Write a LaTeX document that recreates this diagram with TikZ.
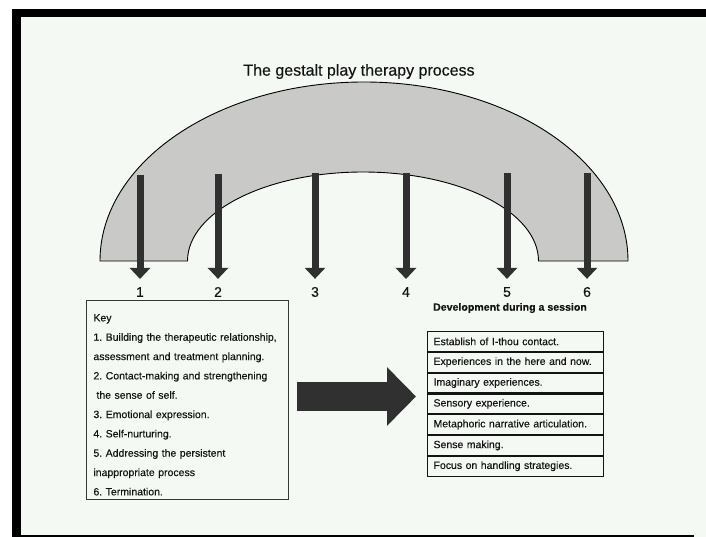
\documentclass[tikz,border=0pt]{standalone}
\usepackage{fontspec}
\setmainfont{Liberation Sans}[FakeBold=0.3]
\usetikzlibrary{arrows.meta}
\definecolor{paper}{RGB}{244,249,243}
\definecolor{archgray}{RGB}{201,202,200}
\definecolor{ink}{RGB}{48,48,48}
\definecolor{txt}{RGB}{20,20,20}
\frenchspacing
\begin{document}
\begin{tikzpicture}[x=1pt,y=-1pt,
  downarrow/.style={draw=ink, line width=7pt, -{Triangle[width=20pt,length=11pt]}, shorten >=8pt},
  bigarrow/.style={draw=ink, line width=29pt, -{Triangle[width=57pt,length=29pt]}, shorten <=8pt, shorten >=11pt},
  numlabel/.style={font=\fontsize{14}{14}\selectfont, text=txt, inner sep=0pt},
  rowbox/.style={draw=txt, line width=1.1pt, text width=164pt, inner xsep=6pt, inner ysep=0pt,
    minimum height=19.7pt, align=left, anchor=north west, font=\fontsize{10.5}{12}\selectfont, text=txt},
  keybox/.style={draw=txt!85, line width=0.9pt, text width=188pt, inner xsep=7pt, inner ysep=0pt,
    minimum height=199pt, align=left, anchor=north west, font=\fontsize{10.5}{19.33}\selectfont, text=txt},
  archshape/.style={draw=black, line width=0.9pt, fill=archgray}
]
\useasboundingbox (0,0) rectangle (706,537);
% paper and frame
\fill[white] (0,0) rectangle (706,537);
\fill[paper] (12,9) rectangle (706,537);
\fill[black] (12,9) rectangle (706,17);
\fill[black] (12,9) rectangle (21,537);
\fill[black] (12,534.5) rectangle (694,537);

% title
\node[font=\fontsize{16}{16}\selectfont, text=txt] (title) at (359,71.5) {The gestalt play therapy process};

% arch
\path[archshape] (100,261) arc[start angle=180, end angle=360, x radius=264, y radius=179]
  -- (538.5,261) arc[start angle=0, end angle=-180, x radius=175.5, y radius=89] -- cycle;

% arrow tops
\coordinate (t1) at (140,175);
\coordinate (t2) at (218,174);
\coordinate (t3) at (315,173);
\coordinate (t4) at (406,173);
\coordinate (t5) at (507,173);
\coordinate (t6) at (587,173);

% number labels
\node[numlabel] (n1) at (140,292) {1};
\node[numlabel] (n2) at (218,292) {2};
\node[numlabel] (n3) at (315,292) {3};
\node[numlabel] (n4) at (406,292) {4};
\node[numlabel] (n5) at (507,292) {5};
\node[numlabel] (n6) at (587,292) {6};

\foreach \i in {1,...,6} {\draw[downarrow] (t\i) -- (n\i.north);}

% key box
\node[keybox] (key) at (86,300) {\rule{0pt}{17pt}Key\\
1. Building the therapeutic relationship,\\
assessment and treatment planning.\\
2. Contact-making and strengthening\\
\hspace*{3pt}the sense of self.\\
3. Emotional expression.\\
4. Self-nurturing.\\
5. Addressing the persistent\\
inappropriate process\\
6. Termination.};

% development heading
\node[font=\bfseries\fontsize{10.6}{12}\selectfont, text=txt] (dev) at (510,308) {Development during a session};

% table rows
\node[rowbox] (r1) at (427,331) {Establish of I-thou contact.};
\node[rowbox] (r2) at (r1.south west) {Experiences in the here and now.};
\node[rowbox] (r3) at (r2.south west) {Imaginary experiences.};
\node[rowbox] (r4) at (r3.south west) {Sensory experience.};
\node[rowbox] (r5) at (r4.south west) {Metaphoric narrative articulation.};
\node[rowbox] (r6) at (r5.south west) {Sense making.};
\node[rowbox] (r7) at (r6.south west) {Focus on handling strategies.};

% big arrow
\coordinate (mid) at (0,396.5);
\draw[bigarrow] (key.east |- mid) -- (r4.west |- mid);
\end{tikzpicture}
\end{document}
